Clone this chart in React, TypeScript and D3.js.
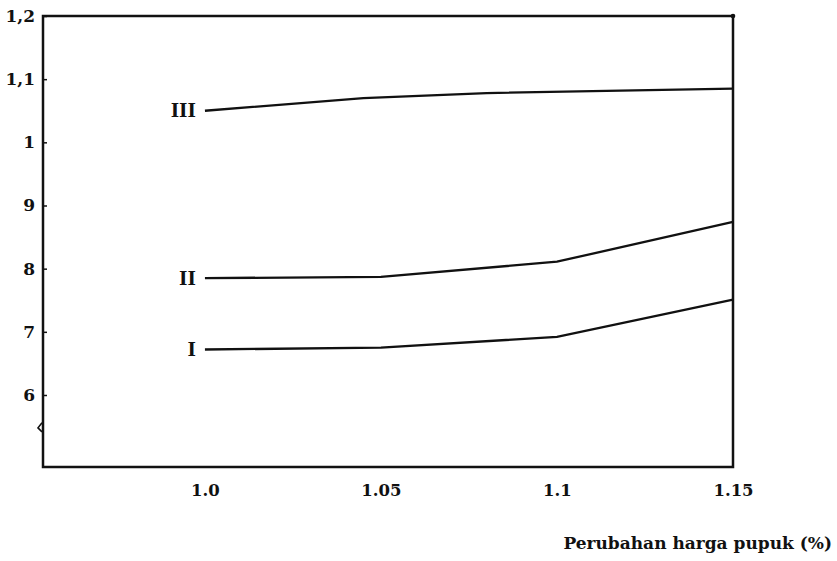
import React, { useEffect, useRef } from "react";
import * as d3 from "d3";

// x: perubahan harga pupuk, y (6 .. 1,2 => 0.6 .. 1.2)
const xTicks = [1.0, 1.05, 1.1, 1.15];
const xTickLabels = ["1.0", "1.05", "1.1", "1.15"];
const yTicks = [0.6, 0.7, 0.8, 0.9, 1.0, 1.1, 1.2];
const yTickLabels = ["6", "7", "8", "9", "1", "1,1", "1,2"];

const seriesNames = ["I", "II", "III"];
const xI = [1.0, 1.05, 1.1, 1.15];
const yI = [0.672, 0.675, 0.692, 0.751];
const xII = [1.0, 1.05, 1.1, 1.15];
const yII = [0.785, 0.787, 0.811, 0.874];
const xIII = [1.0, 1.045, 1.08, 1.15];
const yIII = [1.05, 1.07, 1.078, 1.085];

const W = 837;
const H = 561;

const App = () => {
  const ref = useRef<SVGSVGElement>(null);

  useEffect(() => {
    const svg = d3.select(ref.current);
    svg.selectAll("*").remove();

    const left = 43, right = 733, top = 16, bottom = 467;
    const x = d3.scaleLinear().domain([0.954, 1.15]).range([left, right]);
    const y = d3.scaleLinear().domain([0.486, 1.2]).range([bottom, top]);

    const font = "'DejaVu Serif', 'Liberation Serif', serif";

    // frame
    svg.append("path")
      .attr("d", `M${left},${top}H${right}V${bottom}H${left}Z`)
      .attr("fill", "none")
      .attr("stroke", "#111")
      .attr("stroke-width", 2.5);
    svg.append("circle")
      .attr("cx", right).attr("cy", top).attr("r", 2.3)
      .attr("fill", "#111");

    // little scan mark on the y axis
    const ym = y(0.548);
    svg.append("path")
      .attr("d", `M${left - 1},${ym - 5}L${left - 5},${ym}L${left - 1},${ym + 4}`)
      .attr("fill", "none")
      .attr("stroke", "#111")
      .attr("stroke-width", 1.6);

    // y axis
    const yAxis = d3.axisLeft(y)
      .tickValues(yTicks)
      .tickFormat((d, i) => yTickLabels[i])
      .tickSizeInner(-4)
      .tickSizeOuter(0)
      .tickPadding(8);
    const gy = svg.append("g")
      .attr("transform", `translate(${left},0)`)
      .call(yAxis);
    gy.select(".domain").remove();
    gy.selectAll("line").attr("stroke", "#111").attr("stroke-width", 1.5);
    gy.selectAll("text")
      .attr("font-family", font)
      .attr("font-weight", "bold")
      .attr("font-size", 17)
      .attr("fill", "#111");

    // x axis
    const xAxis = d3.axisBottom(x)
      .tickValues(xTicks)
      .tickFormat((d, i) => xTickLabels[i])
      .tickSize(0)
      .tickPadding(17);
    const gx = svg.append("g")
      .attr("transform", `translate(0,${bottom})`)
      .call(xAxis);
    gx.select(".domain").remove();
    gx.selectAll("text")
      .attr("font-family", font)
      .attr("font-weight", "bold")
      .attr("font-size", 16.5)
      .attr("fill", "#111");

    // lines
    const line = d3.line<[number, number]>()
      .x(d => x(d[0]))
      .y(d => y(d[1]));

    const series = [
      { name: seriesNames[0], xs: xI, ys: yI },
      { name: seriesNames[1], xs: xII, ys: yII },
      { name: seriesNames[2], xs: xIII, ys: yIII },
    ];

    series.forEach(s => {
      const pts = s.xs.map((v, i) => [v, s.ys[i]] as [number, number]);
      svg.append("path")
        .attr("d", line(pts))
        .attr("fill", "none")
        .attr("stroke", "#111")
        .attr("stroke-width", 2.3);
      svg.append("text")
        .attr("x", x(pts[0][0]) - 9)
        .attr("y", y(pts[0][1]))
        .attr("dy", "0.36em")
        .attr("text-anchor", "end")
        .attr("font-family", font)
        .attr("font-weight", "bold")
        .attr("font-size", 18)
        .attr("fill", "#111")
        .text(s.name);
    });

    // x title
    svg.append("text")
      .attr("x", 832)
      .attr("y", 549)
      .attr("text-anchor", "end")
      .attr("font-family", font)
      .attr("font-weight", "bold")
      .attr("font-size", 17)
      .attr("fill", "#111")
      .text("Perubahan harga pupuk (%)");
  }, []);

  return (
    <svg
      ref={ref}
      width={W}
      height={H}
      style={{ position: "absolute", left: 0, top: 0, background: "#fff" }}
    />
  );
};

export default App;
